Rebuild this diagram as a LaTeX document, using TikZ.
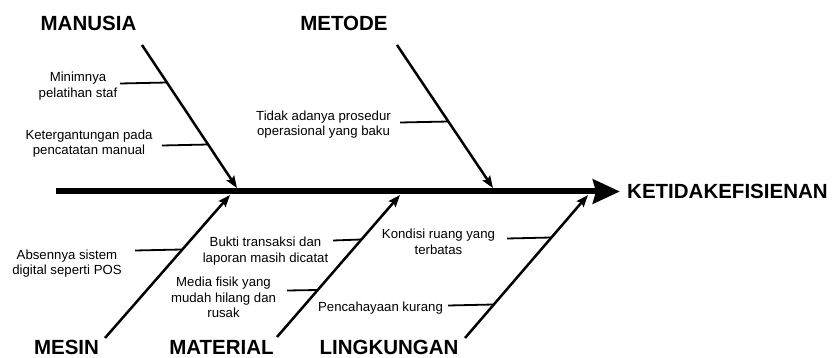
\documentclass[tikz,border=0pt]{standalone}
\usepackage{fontspec}
\setmainfont{Liberation Sans}
\usetikzlibrary{arrows.meta}
\begin{document}
\begin{tikzpicture}[x=1pt,y=-1pt,
  cat/.style={font=\fontsize{20.5}{24}\selectfont\bfseries, inner sep=0pt, anchor=base},
  sub/.style={font=\fontsize{13.2}{15.5}\selectfont, align=center, inner sep=0pt},
  bone/.style={line width=2.5pt, -{Stealth[length=12pt,width=9pt,inset=2pt]}},
  twig/.style={line width=1.8pt},
  spine/.style={line width=6pt, -{Stealth[length=27pt,width=24pt,inset=3pt]}}]
\useasboundingbox (0,0) rectangle (832,358);

% effect and spine
\node[cat, anchor=base west] (effect) at (627,198) {KETIDAKEFISIENAN};
\coordinate (tail) at (56,191.5);
\coordinate (spineend) at (620,191.5);
\draw[spine] (tail) -- (spineend);

% categories
\node[cat] (manusia) at (88.5,31) {MANUSIA};
\node[cat] (metode) at (344,31) {METODE};
\node[cat] (mesin) at (66.5,354) {MESIN};
\node[cat] (material) at (221.5,354) {MATERIAL};
\node[cat] (lingkungan) at (389,354) {LINGKUNGAN};

% bones
\coordinate (b1s) at (142,45);  \coordinate (b1e) at (237,188);
\coordinate (b2s) at (397,45);  \coordinate (b2e) at (493,188);
\coordinate (b3s) at (105,338); \coordinate (b3e) at (230,195);
\coordinate (b4s) at (277,337); \coordinate (b4e) at (400,195);
\coordinate (b5s) at (465,338); \coordinate (b5e) at (588,195);
\draw[bone] (b1s) -- (b1e);
\draw[bone] (b2s) -- (b2e);
\draw[bone] (b3s) -- (b3e);
\draw[bone] (b4s) -- (b4e);
\draw[bone] (b5s) -- (b5e);

% sub causes
\node[sub] (s1) at (78,86) {Minimnya\\pelatihan staf};
\node[sub] (s2) at (89,143.5) {Ketergantungan pada\\pencatatan manual};
\node[sub] (s3) at (323.5,124.5) {Tidak adanya prosedur\\operasional yang baku};
\node[sub] (s4) at (67,263.5) {Absennya sistem\\digital seperti POS};
\node[sub] (s5) at (265.5,251) {Bukti transaksi dan\\laporan masih dicatat};
\node[sub] (s6) at (223.5,297.5) {Media fisik yang\\mudah hilang dan\\rusak};
\node[sub] (s7) at (438.5,242) {Kondisi ruang yang\\terbatas};
\node[sub] (s8) at (380.5,308) {Pencahayaan kurang};

% twigs
\coordinate (t1a) at (120,83.5);  \coordinate (t1b) at (167.2,82.5);
\coordinate (t2a) at (162,145.5); \coordinate (t2b) at (208.4,144.5);
\coordinate (t3a) at (400,122.5); \coordinate (t3b) at (448.7,121.5);
\coordinate (t4a) at (135,250.5); \coordinate (t4b) at (181.9,249.5);
\coordinate (t5a) at (333,240.5); \coordinate (t5b) at (361,239.5);
\coordinate (t6a) at (287,290.5); \coordinate (t6b) at (317.7,290);
\coordinate (t7a) at (507,238.5); \coordinate (t7b) at (551,237.5);
\coordinate (t8a) at (448,305.5); \coordinate (t8b) at (493.4,304.5);
\draw[twig] (t1a) -- (t1b);
\draw[twig] (t2a) -- (t2b);
\draw[twig] (t3a) -- (t3b);
\draw[twig] (t4a) -- (t4b);
\draw[twig] (t5a) -- (t5b);
\draw[twig] (t6a) -- (t6b);
\draw[twig] (t7a) -- (t7b);
\draw[twig] (t8a) -- (t8b);
\end{tikzpicture}
\end{document}
